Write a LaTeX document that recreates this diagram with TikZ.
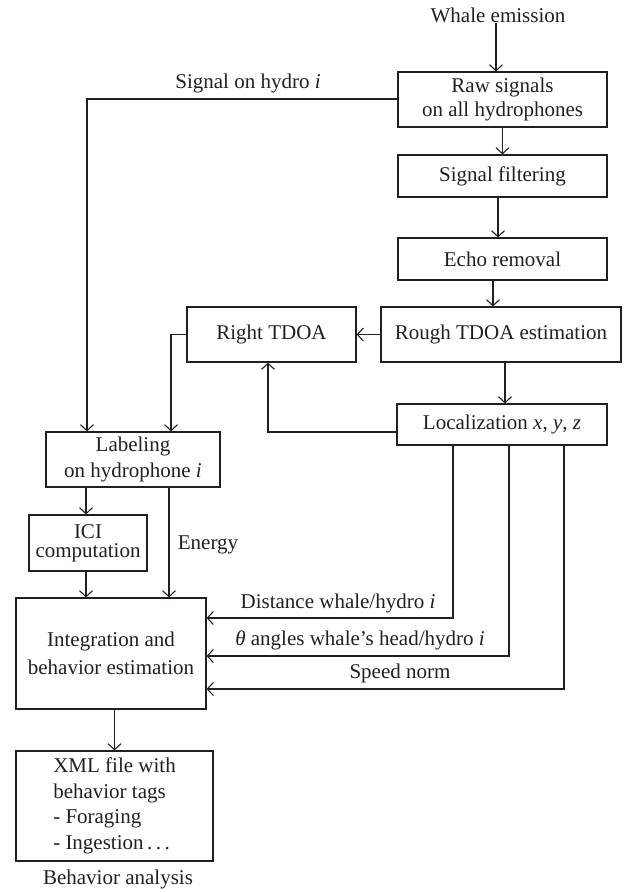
\documentclass[tikz,border=0pt]{standalone}
\usepackage{fontspec}
\setmainfont{Liberation Serif}
\usetikzlibrary{arrows.meta}
\definecolor{ink}{HTML}{231F20}
\begin{document}
\begin{tikzpicture}[x=1pt,y=-1pt,
  every node/.style={font=\fontsize{21}{24}\selectfont, text=ink},
  box/.style={draw=ink, line width=1.2pt, inner sep=0pt, align=center},
  lbl/.style={inner sep=0pt},
  arr/.style={draw=ink, line width=1.1pt, -{Straight Barb[length=6pt,width=13pt]}},
  ln/.style={draw=ink, line width=1.1pt}]
\useasboundingbox (0,0) rectangle (624,892);
\node[lbl] (whale) at (498,15) {Whale emission};
\node[box, minimum width=209pt, minimum height=55pt] (raw) at (502.5,99.5) {Raw signals\\on all hydrophones};
\node[box, minimum width=209pt, minimum height=42pt] (filter) at (502.5,176) {Signal filtering};
\node[box, minimum width=209pt, minimum height=42pt] (echo) at (502.5,259) {Echo removal};
\node[box, minimum width=240pt, minimum height=55pt] (rough) at (501,334.5) {Rough TDOA estimation};
\node[box, minimum width=169pt, minimum height=55pt] (right) at (271.5,334.5) {Right TDOA};
\node[box, minimum width=210pt, minimum height=41pt] (loc) at (502,424.5) {Localization \textit{x}, \textit{y}, \textit{z}};
\node[box, minimum width=174pt, minimum height=55pt, font=\fontsize{21}{26}\selectfont] (label) at (133,459.5) {Labeling\\on hydrophone \textit{i}};
\node[box, minimum width=118pt, minimum height=56pt, font=\fontsize{21}{19}\selectfont] (ici) at (88,543) {ICI\\computation};
\node[box, minimum width=190pt, minimum height=111pt, font=\fontsize{21}{28}\selectfont] (integ) at (111,653.5) {Integration and\\behavior estimation};
\node[box, minimum width=197pt, minimum height=110pt, align=left, font=\fontsize{21}{25.5}\selectfont] (xml) at (114.5,806) {XML file with\\behavior tags\\- Foraging\\- Ingestion\,.\,.\,.};
\node[lbl] (beh) at (118,879) {Behavior analysis};
\node[lbl] (sig) at (248,83) {Signal on hydro \textit{i}};
\node[lbl] (energy) at (208,545) {Energy};
\node[lbl] (dist) at (338,603) {Distance whale/hydro \textit{i}};
\node[lbl] (theta) at (360,640) {\textit{θ} angles whale’s head/hydro \textit{i}};
\node[lbl] (speed) at (400,673) {Speed norm};
% connectors
\draw[arr] ([xshift=-2pt]whale.south) -- ([xshift=-2pt]whale.south |- raw.north);
\draw[arr] (raw.south) -- (filter.north);
\draw[arr] ([xshift=-4.5pt]filter.south) -- ([xshift=-4.5pt]echo.north);
\draw[arr] ([xshift=-9.5pt]echo.south) -- ([xshift=-9.5pt]echo.south |- rough.north);
\draw[arr] ([xshift=3pt]loc.north |- rough.south) -- ([xshift=3pt]loc.north);
\draw[arr] (rough.west) -- (right.east);
\draw[arr] (right.west) -| ([xshift=38pt]label.north);
\draw[arr] ([yshift=-7.5pt]loc.west) -| ([xshift=-3.5pt]right.south);
\draw[arr] ([yshift=0.5pt]raw.west) -| ([xshift=-46pt]label.north);
\draw[arr] ([xshift=-2pt]ici.north |- label.south) -- ([xshift=-2pt]ici.north);
\draw[arr] ([xshift=-2pt]ici.south) -- ([xshift=-2pt]ici.south |- integ.north);
\draw[arr] ([xshift=36pt]label.south) coordinate (e1) -- (e1 |- integ.north);
\draw[arr] ([xshift=-49pt]loc.south) |- ([yshift=35.5pt]integ.east);
\draw[arr] ([xshift=7pt]loc.south) |- ([yshift=-2.5pt]integ.east);
\draw[arr] ([xshift=62pt]loc.south) |- ([yshift=-35.5pt]integ.east);
\draw[arr] (xml.north |- integ.south) -- (xml.north);
\end{tikzpicture}
\end{document}
